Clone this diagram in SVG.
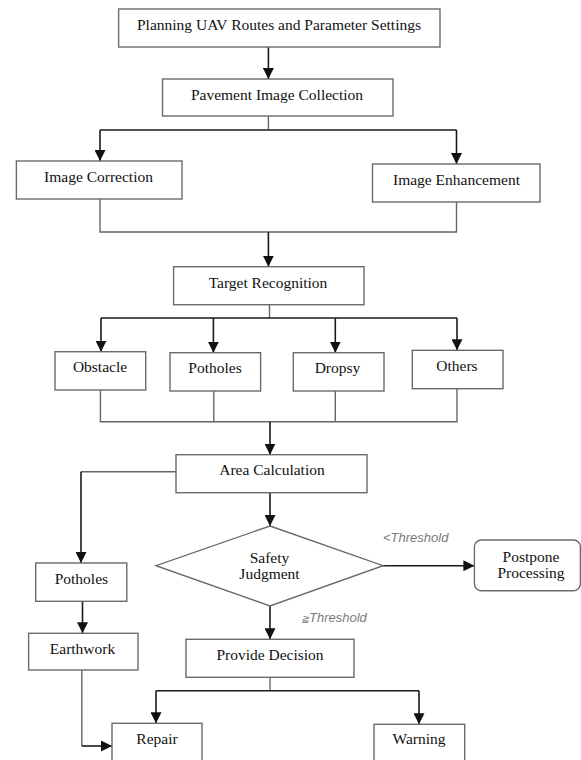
<svg xmlns="http://www.w3.org/2000/svg" width="581" height="760" viewBox="0 0 581 760">
<style>
.box{fill:#fff;stroke:#6a6a6a;stroke-width:1.4}
.t{font-family:"Liberation Serif","Times New Roman",serif;font-size:15.5px;fill:#111;text-anchor:middle}
.lbl{font-family:"Liberation Sans",Arial,sans-serif;font-style:italic;font-size:13px;fill:#7a7a7a}
.ln{fill:none;stroke:#666;stroke-width:1.4}
.ar{fill:none;stroke:#1a1a1a;stroke-width:1.6;marker-end:url(#ah)}
</style>
<defs>
<marker id="ah" viewBox="0 0 10 10" refX="10" refY="5" markerWidth="11" markerHeight="11" markerUnits="userSpaceOnUse" orient="auto">
<path d="M0,0 L10,5 L0,10 z" fill="#111"/>
</marker>
</defs>
<rect width="581" height="760" fill="#fff"/>
<g id="connectors">
<path class="ar" d="M268.4,47 V79"/>
<path class="ln" d="M268.4,116 V130"/>
<path class="ar" d="M100,130 H456.5 M100,130 V161"/>
<path class="ar" d="M456.5,130 V164"/>
<path class="ln" d="M100,199 V232 H456.5 V202"/>
<path class="ar" d="M268.4,232 V266.7"/>
<path class="ln" d="M269.5,304.7 V318"/>
<path class="ar" d="M101,318 H457 M101,318 V351.7"/>
<path class="ar" d="M213.4,318 V352.7"/>
<path class="ar" d="M335.3,318 V352.7"/>
<path class="ar" d="M457,318 V350.3"/>
<path class="ln" d="M100.4,390 V421.7 H457 V388.7 M213.8,391 V421.7 M335.3,391 V421.7"/>
<path class="ar" d="M270,421.7 V454.7"/>
<path class="ln" d="M176,471.7 H81"/>
<path class="ar" d="M81,471.7 V563"/>
<path class="ar" d="M270,492.7 V526"/>
<path class="ar" d="M383,565.7 H474.4"/>
<path class="ar" d="M270,606 V639.3"/>
<path class="ar" d="M82.5,601.3 V633.3"/>
<path class="ln" d="M270,677.3 V690.7"/>
<path class="ar" d="M156,690.7 H419 M156,690.7 V723.3"/>
<path class="ar" d="M419,690.7 V724.3"/>
<path class="ln" d="M81.8,670 V746"/>
<path class="ar" d="M81.8,746 H112"/>
</g>
<g id="n1"><rect class="box" x="118.6" y="9" width="321.4" height="38"/><text class="t" x="279" y="30">Planning UAV Routes and Parameter Settings</text></g>
<g id="n2"><rect class="box" x="162.5" y="79" width="230.5" height="37"/><text class="t" x="277" y="99.5">Pavement Image Collection</text></g>
<g id="n3"><rect class="box" x="16.4" y="161" width="165.6" height="38"/><text class="t" x="98.5" y="182">Image Correction</text></g>
<g id="n4"><rect class="box" x="372.5" y="164" width="167.5" height="38"/><text class="t" x="456.5" y="185">Image Enhancement</text></g>
<g id="n5"><rect class="box" x="173.6" y="266.7" width="190.4" height="38"/><text class="t" x="268" y="287.5">Target Recognition</text></g>
<g id="n6"><rect class="box" x="55" y="351.7" width="90.7" height="38.3"/><text class="t" x="100" y="372">Obstacle</text></g>
<g id="n7"><rect class="box" x="170" y="352.7" width="90.6" height="38.3"/><text class="t" x="215" y="373">Potholes</text></g>
<g id="n8"><rect class="box" x="293.3" y="352.7" width="90.7" height="38.3"/><text class="t" x="337.5" y="373">Dropsy</text></g>
<g id="n9"><rect class="box" x="412.3" y="350.3" width="90.7" height="38.4"/><text class="t" x="457" y="371">Others</text></g>
<g id="n10"><rect class="box" x="176" y="454.7" width="191" height="38"/><text class="t" x="272" y="475.3">Area Calculation</text></g>
<g id="n11"><polygon class="box" points="270,526 383,565.7 270,606 156,565.7"/><text class="t" x="269.5" y="563.3">Safety</text><text class="t" x="269.5" y="578.7">Judgment</text></g>
<g id="n12"><rect class="box" x="474.4" y="540" width="106" height="50.7" rx="7"/><text class="t" x="531" y="562.3">Postpone</text><text class="t" x="531" y="577.7">Processing</text></g>
<g id="n13"><rect class="box" x="186" y="639.3" width="168" height="38"/><text class="t" x="270" y="660">Provide Decision</text></g>
<g id="n14"><rect class="box" x="35.7" y="563" width="91.1" height="38.3"/><text class="t" x="81.4" y="584">Potholes</text></g>
<g id="n15"><rect class="box" x="28.6" y="633.3" width="109.4" height="36.7"/><text class="t" x="82.5" y="654">Earthwork</text></g>
<g id="n16"><rect class="box" x="112" y="723.3" width="90" height="50"/><text class="t" x="157" y="744.3">Repair</text></g>
<g id="n17"><rect class="box" x="374" y="724.3" width="90.7" height="50"/><text class="t" x="419" y="744.3">Warning</text></g>
<text class="lbl" x="383" y="542">&lt;Threshold</text>
<text class="lbl" x="301" y="622.3"><tspan font-size="10">≧</tspan>Threshold</text>
</svg>
